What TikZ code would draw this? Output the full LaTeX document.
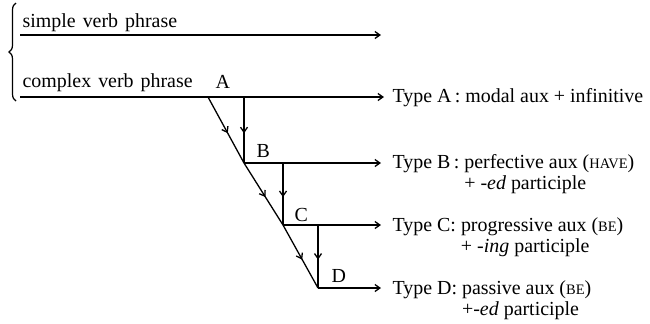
\documentclass[tikz,border=0pt]{standalone}
\usepackage{fontspec}
\setmainfont{Liberation Serif}
\usetikzlibrary{arrows.meta,decorations.pathreplacing,decorations.markings}
\newcommand{\smallcapword}[1]{{\fontsize{14.5}{16}\selectfont #1}}
\newcommand{\widewords}[1]{\spaceskip=7bp\relax #1}
\begin{document}
\begin{tikzpicture}[x=1bp,y=-1bp, line width=1.3bp,
  lab/.style={inner sep=0pt, anchor=base west, font=\fontsize{20}{22}\selectfont},
  tipped/.style={-{Straight Barb[length=5bp,width=7bp]}},
  midarrow/.style={postaction={decorate},decoration={markings, mark=at position 0.55 with {\arrow{Straight Barb[length=5bp,width=7bp]}}}}]
\useasboundingbox (0,0) rectangle (650,323);
% coordinates
\coordinate (s0) at (20,35); \coordinate (s1) at (381,35);
\coordinate (a0) at (20,97); \coordinate (A) at (208,97); \coordinate (a1) at (384,97);
\coordinate (av) at (244,97); \coordinate (B) at (244,163); \coordinate (b1) at (381,163);
\coordinate (bv) at (283,163); \coordinate (C) at (283,225); \coordinate (c1) at (381,225);
\coordinate (cv) at (318,225); \coordinate (D) at (318,288); \coordinate (d1) at (381,288);
\coordinate (br0) at (16,101); \coordinate (br1) at (16,3);
% brace
\draw[line width=1.2bp, decorate, decoration={brace, amplitude=7bp}] (br0) -- (br1);
% horizontal lines
\draw[tipped] (s0) -- (s1);
\draw[tipped] (a0) -- (a1);
\draw[tipped] (B) -- (b1);
\draw[tipped] (C) -- (c1);
\draw[tipped] (D) -- (d1);
% diagonal
\draw[midarrow] (A) -- (B);
\draw[midarrow] (B) -- (C);
\draw[midarrow] (C) -- (D);
% verticals
\draw[midarrow] (av) -- (B);
\draw[midarrow] (bv) -- (C);
\draw[midarrow] (cv) -- (D);
% labels
\node[lab] (tsimple) at (22,27) {\widewords{simple verb phrase}};
\node[lab] (tcomplex) at (22,87) {\widewords{complex verb phrase}};
\node[lab] (lA) at (215,88) {A};
\node[lab] (lB) at (256,157) {B};
\node[lab] (lC) at (294,221) {C};
\node[lab] (lD) at (331,282) {D};
\node[lab] (tA) at (392,102) {Type A\,: modal aux + infinitive};
\node[lab] (tB) at (392,168) {Type B\,: \begin{tabular}[t]{@{}l@{}}perfective aux (\smallcapword{HAVE})\\+ \textit{-ed} participle\end{tabular}};
\node[lab] (tC) at (392,231) {Type C: \begin{tabular}[t]{@{}l@{}}progressive aux (\smallcapword{BE})\\+ \textit{-ing} participle\end{tabular}};
\node[lab] (tD) at (392,294) {Type D: \begin{tabular}[t]{@{}l@{}}passive aux (\smallcapword{BE})\\+\textit{-ed} participle\end{tabular}};
\end{tikzpicture}
\end{document}
